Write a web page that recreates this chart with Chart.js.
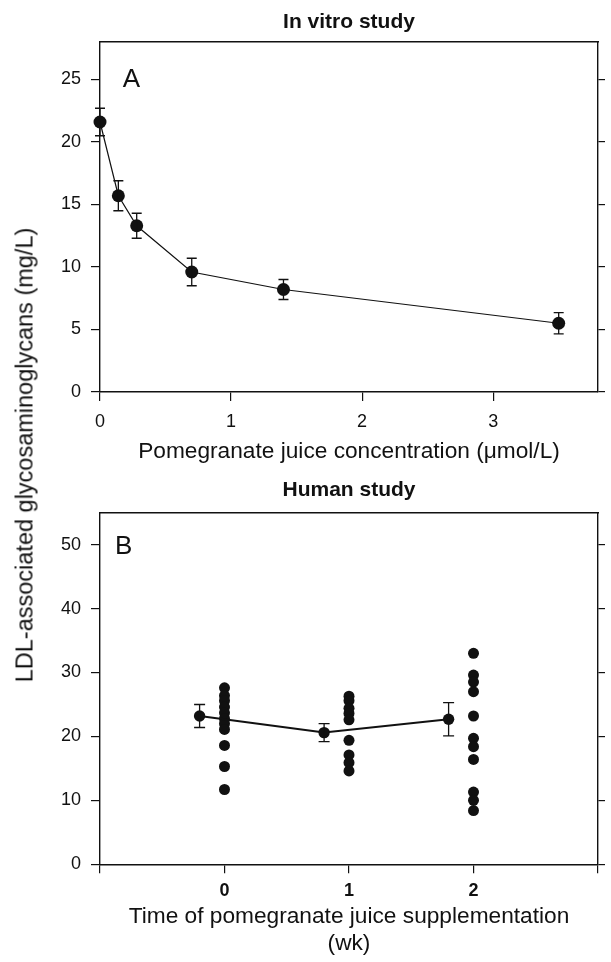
<!DOCTYPE html>
<html>
<head>
<meta charset="utf-8">
<script src="https://cdn.jsdelivr.net/npm/chart.js@4.4.1/dist/chart.umd.min.js"></script>
<style>
  html, body { margin: 0; padding: 0; background: #fff; }
  #wrap { position: relative; width: 611px; height: 962px; overflow: hidden; }
  #chartA { position: absolute; left: 0; top: 0; }
  #chartB { position: absolute; left: 0; top: 470px; }
  #ytitle {
    position: absolute; left: 25px; top: 455px;
    transform: translate(-50%, -50%) rotate(-90deg);
    white-space: nowrap; font: 23.5px "Liberation Sans", Arial, sans-serif; color: #111;
  }
</style>
</head>
<body>
<div id="wrap">
  <canvas id="chartA" width="611" height="470" style="width:611px;height:470px"></canvas>
  <canvas id="chartB" width="611" height="492" style="width:611px;height:492px"></canvas>
  <div id="ytitle">LDL-associated glycosaminoglycans (mg/L)</div>
</div>
<script>
// panel A - in vitro
const concA = [0, 0.14, 0.28, 0.7, 1.4, 3.5];
const gagA = [21.6, 15.7, 13.3, 9.6, 8.2, 5.5];
const semA = [1.1, 1.2, 1.0, 1.1, 0.8, 0.85];

// panel B - human study, means drawn just left of each week
const weekMeanX = [-0.2, 0.8, 1.8];
const gagMeanB = [23.2, 20.6, 22.7];
const semB = [1.8, 1.4, 2.6];
const weeks = [0, 1, 2];
const week0 = [27.6, 26.4, 25.6, 24.6, 23.7, 22.8, 22.0, 21.1, 18.6, 15.3, 11.7];
const week1 = [26.3, 25.6, 24.4, 23.6, 22.6, 19.4, 17.1, 15.9, 14.6];
const week2 = [33.0, 29.6, 28.5, 27.0, 23.2, 19.7, 18.4, 16.4, 11.3, 10.0, 8.4];

const INK = '#111';
Chart.defaults.font.family = '"Liberation Sans", Arial, sans-serif';
Chart.defaults.color = INK;

const errorBars = {
  id: 'errorBars',
  afterDatasetsDraw(chart) {
    const { ctx, scales: { x, y } } = chart;
    ctx.save();
    ctx.strokeStyle = INK;
    ctx.lineWidth = 1.3;
    chart.data.datasets.forEach(ds => {
      if (!ds.errors) return;
      ds.data.forEach((p, i) => {
        const px = x.getPixelForValue(p.x);
        const top = y.getPixelForValue(p.y + ds.errors[i]);
        const bot = y.getPixelForValue(p.y - ds.errors[i]);
        const w = ds.capHalf || 5;
        ctx.beginPath();
        ctx.moveTo(px, top); ctx.lineTo(px, bot);
        ctx.moveTo(px - w, top); ctx.lineTo(px + w, top);
        ctx.moveTo(px - w, bot); ctx.lineTo(px + w, bot);
        ctx.stroke();
      });
    });
    ctx.restore();
  }
};

const panelLetter = {
  id: 'panelLetter',
  afterDraw(chart, args, o) {
    const { ctx, scales: { x, y } } = chart;
    ctx.save();
    ctx.font = '26px "Liberation Sans", Arial, sans-serif';
    ctx.fillStyle = INK;
    ctx.textAlign = 'center';
    ctx.textBaseline = 'middle';
    ctx.fillText(o.text, x.getPixelForValue(o.x), y.getPixelForValue(o.y));
    ctx.restore();
  }
};

function sideAxes(min, max, step, topH, rightW) {
  return {
    x2: {
      type: 'linear', position: 'top', min: min[0], max: max[0],
      ticks: { display: false },
      grid: { display: false },
      border: { color: INK, width: 1.4 },
      afterFit: s => { s.height = topH; }
    },
    y2: {
      type: 'linear', position: 'right', min: min[1], max: max[1],
      ticks: { display: false, stepSize: step, includeBounds: false },
      grid: { drawOnChartArea: false, tickLength: 7, color: INK, lineWidth: 1.2 },
      border: { color: INK, width: 1.4 },
      afterFit: s => { s.width = rightW; }
    }
  };
}

new Chart(document.getElementById('chartA'), {
  type: 'scatter',
  data: {
    datasets: [{
      data: concA.map((c, i) => ({ x: c, y: gagA[i] })),
      errors: semA,
      capHalf: 5,
      showLine: true,
      borderColor: INK,
      borderWidth: 1.2,
      pointRadius: 6.5,
      pointBackgroundColor: INK,
      pointBorderWidth: 0,
      clip: false
    }]
  },
  options: {
    responsive: false,
    animation: false,
    layout: { padding: 0 },
    plugins: {
      legend: { display: false },
      tooltip: { enabled: false },
      title: {
        display: true, text: 'In vitro study', fullSize: false,
        font: { size: 21, weight: 'bold' }, padding: { top: 9.4, bottom: 0 }, color: INK
      },
      panelLetter: { text: 'A', x: 0.24, y: 25 }
    },
    scales: {
      x: {
        type: 'linear', position: 'bottom', min: 0, max: 3.8,
        ticks: { stepSize: 1, includeBounds: false, padding: 10, font: { size: 18 } },
        grid: { drawOnChartArea: false, tickLength: 9, color: INK, lineWidth: 1.2 },
        border: { color: INK, width: 1.4 },
        title: {
          display: true, text: 'Pomegranate juice concentration (\u03bcmol/L)',
          font: { size: 22.7 }, padding: { top: 0, bottom: 4.5 }
        },
        afterFit: s => { s.height = 78; }
      },
      y: {
        type: 'linear', position: 'left', min: 0, max: 28,
        ticks: { stepSize: 5, includeBounds: false, padding: 10, font: { size: 18 } },
        grid: { drawOnChartArea: false, tickLength: 9, color: INK, lineWidth: 1.2 },
        border: { color: INK, width: 1.4 },
        afterFit: s => { s.width = 100; }
      },
      ...sideAxes([0, 0], [3.8, 28], 5, 7.4, 13)
    }
  },
  plugins: [errorBars, panelLetter]
});

const dotStyle = {
  showLine: false,
  pointRadius: 5.5,
  pointBackgroundColor: INK,
  pointBorderWidth: 0,
  clip: false
};

new Chart(document.getElementById('chartB'), {
  type: 'scatter',
  data: {
    datasets: [
      {
        data: weekMeanX.map((w, i) => ({ x: w, y: gagMeanB[i] })),
        errors: semB,
        capHalf: 5.5,
        showLine: true,
        borderColor: INK,
        borderWidth: 2,
        pointRadius: 5.7,
        pointBackgroundColor: INK,
        pointBorderWidth: 0,
        clip: false
      },
      { data: week0.map(v => ({ x: weeks[0], y: v })), ...dotStyle },
      { data: week1.map(v => ({ x: weeks[1], y: v })), ...dotStyle },
      { data: week2.map(v => ({ x: weeks[2], y: v })), ...dotStyle }
    ]
  },
  options: {
    responsive: false,
    animation: false,
    layout: { padding: 0 },
    plugins: {
      legend: { display: false },
      tooltip: { enabled: false },
      title: {
        display: true, text: 'Human study', fullSize: false,
        font: { size: 21, weight: 'bold' }, padding: { top: 7.4, bottom: 0 }, color: INK
      },
      panelLetter: { text: 'B', x: -0.81, y: 49.7 }
    },
    scales: {
      x: {
        type: 'linear', position: 'bottom', min: -1, max: 3,
        ticks: {
          stepSize: 1, includeBounds: false, padding: 7, font: { size: 18, weight: 'bold' },
          callback: v => (v >= 0 && v <= 2) ? v : ''
        },
        grid: { drawOnChartArea: false, tickLength: 9, color: INK, lineWidth: 1.2 },
        border: { color: INK, width: 1.4 },
        title: {
          display: true, text: ['Time of pomegranate juice supplementation', '(wk)'],
          font: { size: 22.7 }, padding: { top: 0, bottom: 4.2 }
        },
        afterFit: s => { s.height = 97.7; }
      },
      y: {
        type: 'linear', position: 'left', min: 0, max: 55,
        ticks: { stepSize: 10, includeBounds: false, padding: 10, font: { size: 18 } },
        grid: { drawOnChartArea: false, tickLength: 9, color: INK, lineWidth: 1.2 },
        border: { color: INK, width: 1.4 },
        afterFit: s => { s.width = 100; }
      },
      ...sideAxes([-1, 0], [3, 55], 10, 10.1, 13)
    }
  },
  plugins: [errorBars, panelLetter]
});
</script>
</body>
</html>
